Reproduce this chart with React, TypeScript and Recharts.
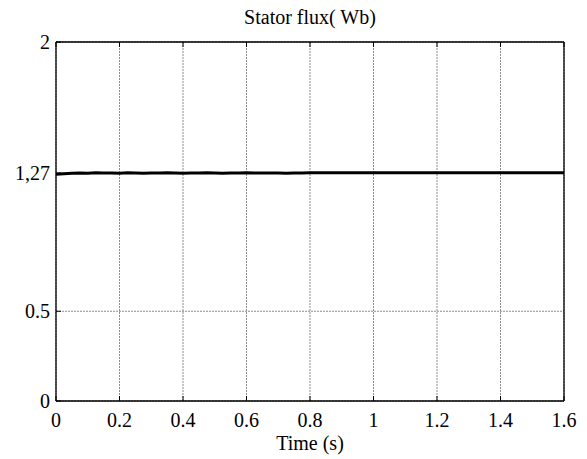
import React from "react";
import { LineChart, Line, XAxis, YAxis, CartesianGrid } from "recharts";

const xTicks = [0, 0.2, 0.4, 0.6, 0.8, 1, 1.2, 1.4, 1.6];
const yTicks = [0, 0.5, 1.27, 2];
const yTickLabels = ["0", "0.5", "1,27", "2"];

const times = [
  0, 0.025, 0.05, 0.075, 0.1, 0.125, 0.15, 0.175, 0.2, 0.225, 0.25, 0.275, 0.3, 0.325, 0.35, 0.375,
  0.4, 0.425, 0.45, 0.475, 0.5, 0.525, 0.55, 0.575, 0.6, 0.625, 0.65, 0.675, 0.7, 0.725, 0.75, 0.775,
  0.8, 0.825, 0.85, 0.875, 0.9, 0.925, 0.95, 0.975, 1, 1.025, 1.05, 1.075, 1.1, 1.125, 1.15, 1.175,
  1.2, 1.225, 1.25, 1.275, 1.3, 1.325, 1.35, 1.375, 1.4, 1.425, 1.45, 1.475, 1.5, 1.525, 1.55, 1.575, 1.6,
];
const flux = [
  1.263, 1.266, 1.269, 1.27, 1.269, 1.271, 1.27, 1.27, 1.269, 1.271, 1.27, 1.269, 1.27, 1.27, 1.271, 1.27,
  1.269, 1.27, 1.27, 1.271, 1.27, 1.269, 1.27, 1.27, 1.271, 1.27, 1.27, 1.27, 1.27, 1.269, 1.27, 1.27,
  1.271, 1.271, 1.271, 1.271, 1.271, 1.271, 1.271, 1.271, 1.271, 1.271, 1.271, 1.271, 1.271, 1.271, 1.271, 1.271,
  1.271, 1.271, 1.271, 1.271, 1.271, 1.271, 1.271, 1.271, 1.271, 1.271, 1.271, 1.271, 1.271, 1.271, 1.271, 1.271, 1.271,
];

const data = times.map((t, i) => ({ t, v: flux[i] }));

const FONT = "'Liberation Serif', 'Times New Roman', serif";
const FS = 20;
const TICK_LEN = 5;

const BottomTick = (props: any) => {
  const { x, y, payload } = props;
  return (
    <g>
      <line x1={x} x2={x} y1={y} y2={y - TICK_LEN} stroke="#000" strokeWidth={1} />
      <text x={x} y={y + 19} textAnchor="middle" dominantBaseline="central" fontFamily={FONT} fontSize={FS} fill="#000">
        {String(payload.value)}
      </text>
    </g>
  );
};

const TopTick = (props: any) => {
  const { x, y } = props;
  return <line x1={x} x2={x} y1={y} y2={y + TICK_LEN} stroke="#000" strokeWidth={1} />;
};

const LeftTick = (props: any) => {
  const { x, y, payload } = props;
  const idx = yTicks.indexOf(payload.value);
  return (
    <g>
      <line x1={x} x2={x + TICK_LEN} y1={y} y2={y} stroke="#000" strokeWidth={1} />
      <text x={x - 6} y={y} textAnchor="end" dominantBaseline="central" fontFamily={FONT} fontSize={FS} fill="#000">
        {idx >= 0 ? yTickLabels[idx] : payload.value}
      </text>
    </g>
  );
};

const RightTick = (props: any) => {
  const { x, y } = props;
  return <line x1={x} x2={x - TICK_LEN} y1={y} y2={y} stroke="#000" strokeWidth={1} />;
};

export default function App() {
  return (
    <div style={{ position: "relative", width: 587, height: 459 }}>
      <LineChart width={587} height={459} data={data} margin={{ top: 33, right: 30, bottom: 0, left: 0 }}>
        <CartesianGrid xAxisId="b" yAxisId="l" stroke="#8c8c8c" strokeDasharray="2 1" vertical horizontal />
        <XAxis
          xAxisId="b"
          dataKey="t"
          type="number"
          domain={[0, 1.6]}
          ticks={xTicks}
          orientation="bottom"
          height={66}
          tickSize={0}
          tickMargin={0}
          tick={<BottomTick />}
          axisLine={{ stroke: "#000", strokeWidth: 1.3 }}
          tickLine={false}
          interval={0}
        />
        <XAxis
          xAxisId="t"
          dataKey="t"
          type="number"
          domain={[0, 1.6]}
          ticks={xTicks}
          orientation="top"
          height={1}
          tickSize={0}
          tickMargin={0}
          tick={<TopTick />}
          axisLine={{ stroke: "#000", strokeWidth: 1.3 }}
          tickLine={false}
          interval={0}
        />
        <YAxis
          yAxisId="l"
          type="number"
          domain={[0, 2]}
          ticks={yTicks}
          orientation="left"
          width={48}
          tickSize={0}
          tickMargin={0}
          tick={<LeftTick />}
          axisLine={{ stroke: "#000", strokeWidth: 1.3 }}
          tickLine={false}
          interval={0}
        />
        <YAxis
          yAxisId="r"
          type="number"
          domain={[0, 2]}
          ticks={yTicks}
          orientation="right"
          width={1}
          tickSize={0}
          tickMargin={0}
          tick={<RightTick />}
          axisLine={{ stroke: "#000", strokeWidth: 1.3 }}
          tickLine={false}
          interval={0}
        />
        <Line
          xAxisId="b"
          yAxisId="l"
          dataKey="v"
          type="linear"
          stroke="#000"
          strokeWidth={3}
          dot={false}
          isAnimationActive={false}
        />
      </LineChart>
      <div
        style={{
          position: "absolute",
          left: 0,
          width: 604,
          top: -2,
          textAlign: "center",
          fontFamily: FONT,
          fontSize: FS,
          lineHeight: "23px",
          color: "#000",
        }}
      >
        Stator flux( Wb)
      </div>
      <div
        style={{
          position: "absolute",
          left: 0,
          width: 604,
          top: 424,
          textAlign: "center",
          fontFamily: FONT,
          fontSize: FS,
          lineHeight: "23px",
          color: "#000",
        }}
      >
        Time (s)
      </div>
    </div>
  );
}
